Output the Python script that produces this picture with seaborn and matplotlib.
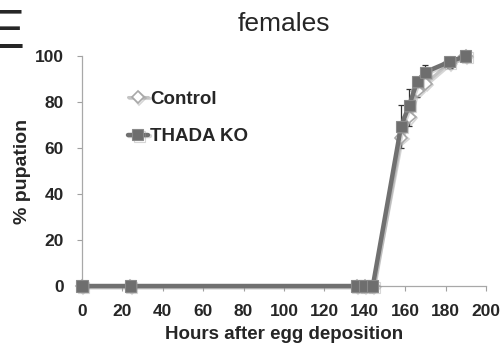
import matplotlib
matplotlib.use("Agg")
import matplotlib.pyplot as plt
import matplotlib.patheffects as pe
import seaborn as sns
import pandas as pd

# Data
hours = [0, 24, 136, 140, 144, 158, 162, 166, 170, 182, 190]
control = [0, 0, 0, 0, 0, 64.5, 73.5, 85, 88, 97, 100]
control_err = [0, 0, 0, 0, 0, 4.5, 4, 3, 1, 2, 0]
thada_ko = [0, 0, 0, 0, 0, 69.5, 78.5, 89, 93, 97.5, 100]
thada_ko_err = [0, 0, 0, 0, 0, 9, 7, 2, 3, 2.5, 0]

df = pd.DataFrame({"hours": hours, "Control": control, "THADA KO": thada_ko})

sns.set_style("ticks")
plt.rcParams["font.family"] = ["Liberation Sans", "DejaVu Sans"]

fig = plt.figure(figsize=(5.03, 3.49), dpi=100)
ax = fig.add_axes([0.163, 0.1805, 0.803, 0.659])

shadow = [pe.SimpleLineShadow(offset=(1, -1), shadow_color="0.6", alpha=0.4), pe.Normal()]

# one-sided error bars: control down, KO up
ax.errorbar(hours, control, yerr=[control_err, [0] * len(hours)], fmt="none",
            ecolor="#333333", elinewidth=0.9, capsize=2.5, capthick=0.9, zorder=2)
ax.errorbar(hours, thada_ko, yerr=[[0] * len(hours), thada_ko_err], fmt="none",
            ecolor="#333333", elinewidth=0.9, capsize=2.5, capthick=0.9, zorder=2)

sns.lineplot(data=df, x="hours", y="Control", ax=ax, color="#c4c4c4", linewidth=2.2,
             marker="D", markersize=6.5, markerfacecolor="white",
             markeredgecolor="#a8a8a8", markeredgewidth=1.2, label="Control",
             zorder=3, clip_on=False, path_effects=shadow)
sns.lineplot(data=df, x="hours", y="THADA KO", ax=ax, color="#707070", linewidth=3.2,
             marker="s", markersize=8, markerfacecolor="#6e6e6e",
             markeredgecolor="#8a8a8a", markeredgewidth=0.8, label="THADA KO",
             zorder=4, clip_on=False, path_effects=shadow)

ax.set_xlim(0, 200)
ax.set_ylim(0, 100)
ax.set_xticks(range(0, 201, 20))
ax.set_yticks(range(0, 101, 20))
for lab in ax.get_xticklabels() + ax.get_yticklabels():
    lab.set_fontweight("bold")
ax.tick_params(axis="x", length=3.5, width=0.8, color="#a0a0a0", pad=9.5, labelsize=12.5)
ax.tick_params(axis="y", length=3.5, width=0.8, color="#a0a0a0", pad=9.5, labelsize=12.5)

sns.despine(ax=ax)
for s in ["left", "bottom"]:
    ax.spines[s].set_color("#a8a8a8")
    ax.spines[s].set_linewidth(0.9)

ax.set_xlabel("Hours after egg deposition", fontsize=13.5, fontweight="bold", labelpad=5)
ax.set_ylabel("% pupation", fontsize=14, fontweight="bold", labelpad=3)
ax.set_title("females", fontsize=19, pad=18)

ax.legend(loc="upper left", bbox_to_anchor=(0.113, 0.85), frameon=False,
          prop={"weight": "bold", "size": 13.5}, handlelength=1.1, handletextpad=0.1,
          labelspacing=1.1, borderpad=0, borderaxespad=0)

# panel letter, partly cut off at the left edge as in the source figure
fig.text(-0.024, 0.8625, "E", fontsize=40, ha="left", va="baseline")

fig.savefig("out.png", dpi=100)
